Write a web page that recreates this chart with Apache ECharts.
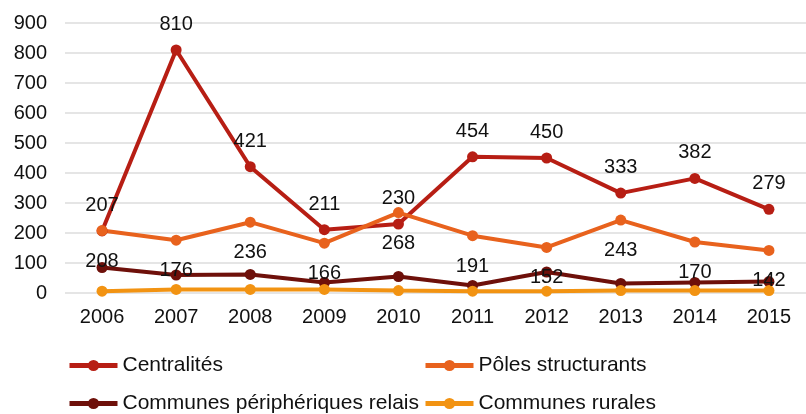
<!DOCTYPE html>
<html>
<head>
<meta charset="utf-8">
<script src="https://cdn.jsdelivr.net/npm/echarts@6/dist/echarts.min.js"></script>
<style>
  html, body { margin: 0; padding: 0; background: #fff; }
  #chart { width: 806px; height: 414px; }
</style>
</head>
<body>
<div id="chart"></div>
<script>
// Years on the horizontal axis
const years = ['2006', '2007', '2008', '2009', '2010', '2011', '2012', '2013', '2014', '2015'];

// Values per type of commune
const centralites = [207, 810, 421, 211, 230, 454, 450, 333, 382, 279];
const polesStructurants = [208, 176, 236, 166, 268, 191, 152, 243, 170, 142];
const communesRelais = [85, 60, 62, 35, 55, 25, 70, 32, 35, 38];
const communesRurales = [6, 12, 12, 12, 8, 6, 6, 8, 8, 8];

// Vertical axis range
const yMin = 0, yMax = 900, yStep = 100;

const FONT = '"Liberation Sans", Arial, sans-serif';

function lineSeries(name, data, color, label) {
  return {
    name: name,
    type: 'line',
    data: data,
    symbol: 'circle',
    symbolSize: 11,
    lineStyle: { color: color, width: 4 },
    itemStyle: { color: color },
    label: label,
    emphasis: { disabled: true },
    animation: false
  };
}

const valueLabel = (pos, dist) => ({
  show: true,
  position: pos,
  distance: dist,
  color: '#111',
  fontSize: 20,
  fontFamily: FONT
});

// One legend block per entry, laid out as a 2 x 2 grid
function legendItem(name, left, top) {
  return {
    data: [name],
    left: left,
    top: top,
    orient: 'horizontal',
    itemWidth: 48,
    itemHeight: 14,
    lineStyle: { width: 5 },
    textStyle: { fontSize: 21, fontFamily: FONT, color: '#111' },
    selectedMode: false
  };
}

const chart = echarts.init(document.getElementById('chart'), null, { renderer: 'canvas' });
chart.setOption({
  backgroundColor: '#fff',
  animation: false,
  grid: { left: 65, top: 23, width: 755, height: 270, containLabel: false },
  legend: [
    legendItem('Centralités', 62, 350),
    legendItem('Communes périphériques relais', 62, 388),
    legendItem('Pôles structurants', 418, 350),
    legendItem('Communes rurales', 418, 388)
  ],
  xAxis: {
    type: 'category',
    data: years,
    boundaryGap: true,
    axisLine: { show: false },
    axisTick: { show: false },
    axisLabel: { fontSize: 20, fontFamily: FONT, color: '#111', margin: 14 }
  },
  yAxis: {
    type: 'value',
    min: yMin,
    max: yMax,
    interval: yStep,
    axisLine: { show: false },
    axisTick: { show: false },
    axisLabel: { fontSize: 20, fontFamily: FONT, color: '#111', margin: 18 },
    splitLine: { lineStyle: { color: '#dcdcdc', width: 1.5 } }
  },
  series: [
    lineSeries('Centralités', centralites, '#B71E14', valueLabel('top', 10)),
    lineSeries('Pôles structurants', polesStructurants, '#E8621D', valueLabel('bottom', 15)),
    lineSeries('Communes périphériques relais', communesRelais, '#6E100A', { show: false }),
    lineSeries('Communes rurales', communesRurales, '#F29312', { show: false })
  ]
});
</script>
</body>
</html>
